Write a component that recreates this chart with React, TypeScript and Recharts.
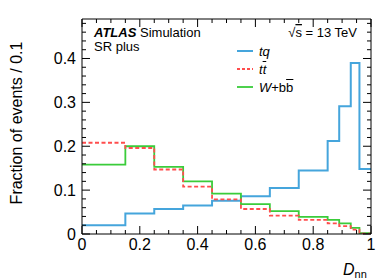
import { ComposedChart, Line, XAxis, YAxis } from 'recharts';

// bin edges along D_nn (variable width bins)
const binEdges = [0, 0.15, 0.25, 0.35, 0.45, 0.55, 0.65, 0.75, 0.85, 0.89, 0.93, 0.96, 1];

// fraction of events per bin
const tqValues = [0.02, 0.047, 0.057, 0.065, 0.076, 0.086, 0.105, 0.145, 0.212, 0.291, 0.39, 0.148];
const ttValues = [0.208, 0.196, 0.147, 0.108, 0.079, 0.057, 0.042, 0.032, 0.024, 0.018, 0.01, 0.001];
const wbbValues = [0.158, 0.2, 0.153, 0.12, 0.092, 0.068, 0.052, 0.039, 0.032, 0.024, 0.014, 0.002];

const xMajorTicks = [0, 0.2, 0.4, 0.6, 0.8, 1];
const xAllTicks = [0, 0.05, 0.1, 0.15, 0.2, 0.25, 0.3, 0.35, 0.4, 0.45, 0.5, 0.55, 0.6, 0.65, 0.7, 0.75, 0.8, 0.85, 0.9, 0.95, 1];
const yMajorTicks = [0, 0.1, 0.2, 0.3, 0.4];
const yAllTicks = [0, 0.02, 0.04, 0.06, 0.08, 0.1, 0.12, 0.14, 0.16, 0.18, 0.2, 0.22, 0.24, 0.26, 0.28, 0.3, 0.32, 0.34, 0.36, 0.38, 0.4, 0.42, 0.44, 0.46, 0.48];

const BLUE = '#45a5dc';
const RED = '#ff4d4d';
const GREEN = '#3acc3a';
const FONT = '"Liberation Sans", Arial, Helvetica, sans-serif';
const X_DOMAIN = [0, 1];
const Y_DOMAIN = [0, 0.49];
const MAJOR = 8;
const MINOR = 4;

// histogram rows: one point per edge, last bin value repeated at the right edge
const data = binEdges.map((x, i) => {
    const k = Math.min(i, tqValues.length - 1);
    return { x, tq: tqValues[k], tt: ttValues[k], wbb: wbbValues[k] };
});

const isIn = (list: number[], v: number) => list.some(m => Math.abs(m - v) < 1e-9);
const frameLine = { stroke: '#000', strokeWidth: 1 };

// ticks point into the plot (ROOT/ATLAS style); labels only on major ticks
const BottomTick = (p: any) => {
    const v = p.payload.value;
    const major = isIn(xMajorTicks, v);
    const y0 = p.y - 5;
    return (
        <g>
            <line x1={p.x} x2={p.x} y1={y0} y2={y0 - (major ? MAJOR : MINOR)} stroke="#000" />
            {major && (
                <text x={p.x} y={p.y} dy="0.71em" textAnchor="middle" fontSize={16} fontFamily={FONT} fill="#000">{String(v)}</text>
            )}
        </g>
    );
};
const LeftTick = (p: any) => {
    const v = p.payload.value;
    const major = isIn(yMajorTicks, v);
    const x0 = p.x + 6;
    return (
        <g>
            <line x1={x0} x2={x0 + (major ? MAJOR : MINOR)} y1={p.y} y2={p.y} stroke="#000" />
            {major && (
                <text x={p.x} y={p.y} dy="0.355em" textAnchor="end" fontSize={16} fontFamily={FONT} fill="#000">{String(v)}</text>
            )}
        </g>
    );
};
const TopTick = (p: any) => {
    const major = isIn(xMajorTicks, p.payload.value);
    return <line x1={p.x} x2={p.x} y1={p.y} y2={p.y + (major ? MAJOR : MINOR)} stroke="#000" />;
};
const RightTick = (p: any) => {
    const major = isIn(yMajorTicks, p.payload.value);
    return <line x1={p.x} x2={p.x - (major ? MAJOR : MINOR)} y1={p.y} y2={p.y} stroke="#000" />;
};

const legendItems = [
    { color: BLUE, dash: false, w: 2, label: <i>tq</i> },
    { color: RED, dash: true, w: 1.8, label: <i>t<span style={{ textDecoration: 'overline' }}>t</span></i> },
    { color: GREEN, dash: false, w: 1.8, label: <span><i>W</i>+b<span style={{ textDecoration: 'overline' }}>b</span></span> },
];

export default function App() {
    return (
        <div style={{ position: 'absolute', left: 0, top: 0, width: 390, height: 280, background: '#fff' }}>
            <ComposedChart width={390} height={280} data={data} margin={{ top: 18, right: 18, left: 0, bottom: 0 }}>
                <XAxis xAxisId={0} dataKey="x" type="number" domain={X_DOMAIN} allowDataOverflow ticks={xAllTicks} interval={0}
                    height={46} tickSize={0} tickMargin={5} tick={<BottomTick />} axisLine={frameLine} tickLine={false} />
                <YAxis yAxisId={0} type="number" domain={Y_DOMAIN} allowDataOverflow ticks={yAllTicks} interval={0}
                    width={82} tickSize={0} tickMargin={6} tick={<LeftTick />} axisLine={frameLine} tickLine={false} />
                <XAxis xAxisId="top" orientation="top" dataKey="x" type="number" domain={X_DOMAIN} allowDataOverflow ticks={xAllTicks} interval={0}
                    height={1} tickSize={0} tickMargin={0} tick={<TopTick />} axisLine={frameLine} tickLine={false} />
                <YAxis yAxisId="right" orientation="right" type="number" domain={Y_DOMAIN} allowDataOverflow ticks={yAllTicks} interval={0}
                    width={1} tickSize={0} tickMargin={0} tick={<RightTick />} axisLine={frameLine} tickLine={false} />

                {/* invisible series so the top/right frame axes are in use */}
                <Line xAxisId="top" yAxisId="right" dataKey="tq" stroke="none" dot={false} activeDot={false}
                    legendType="none" isAnimationActive={false} />

                <Line type="stepAfter" dataKey="tq" stroke={BLUE} strokeWidth={2} dot={false} isAnimationActive={false} />
                <Line type="stepAfter" dataKey="wbb" stroke={GREEN} strokeWidth={1.8} dot={false} isAnimationActive={false} />
                <Line type="stepAfter" dataKey="tt" stroke={RED} strokeWidth={1.8} strokeDasharray="4 2.5" dot={false} isAnimationActive={false} />
            </ComposedChart>

            {/* legend */}
            <div style={{ position: 'absolute', left: 237, top: 42, fontFamily: FONT, fontSize: 13, color: '#000' }}>
                {legendItems.map((e, i) => (
                    <div key={i} style={{ display: 'flex', alignItems: 'center', height: 18 }}>
                        <svg width={16} height={18} style={{ marginRight: 6 }}>
                            <line x1={0} x2={16} y1={9} y2={9} stroke={e.color} strokeWidth={e.w} strokeDasharray={e.dash ? '3 2' : undefined} />
                        </svg>
                        {e.label}
                    </div>
                ))}
            </div>

            <svg width={390} height={280} style={{ position: 'absolute', left: 0, top: 0, pointerEvents: 'none' }}>
                <g fontFamily={FONT} fill="#000">
                    <text x={94} y={37} fontSize={13}>
                        <tspan fontWeight="bold" fontStyle="italic">ATLAS</tspan>
                        <tspan> Simulation</tspan>
                    </text>
                    <text x={94} y={51} fontSize={13}>SR plus</text>
                    <text x={357} y={37} fontSize={13} textAnchor="end">
                        √<tspan textDecoration="overline">s</tspan> = 13 TeV
                    </text>
                    <text x={22} y={123} fontSize={16} textAnchor="middle" transform="rotate(-90, 22, 123)">
                        Fraction of events / 0.1
                    </text>
                    <text x={343} y={275} fontSize={16}>
                        <tspan fontStyle="italic">D</tspan>
                        <tspan fontSize={11} dy={3}>nn</tspan>
                    </text>
                </g>
            </svg>
        </div>
    );
}
